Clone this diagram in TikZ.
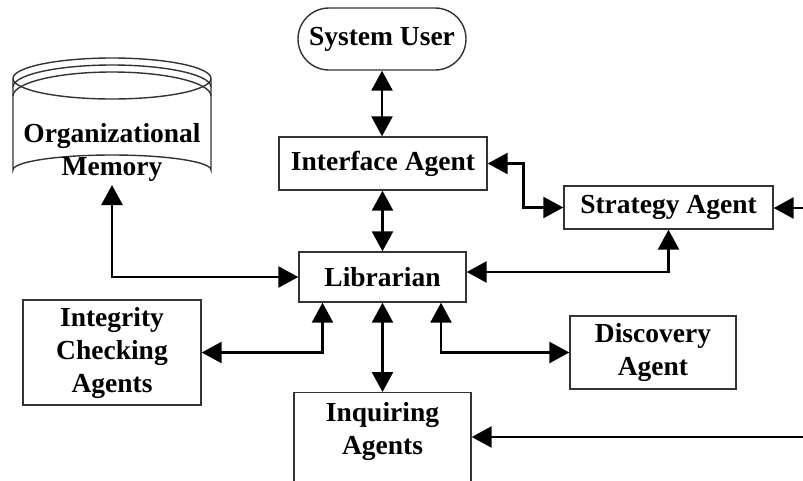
\documentclass[tikz,border=0pt]{standalone}
\usepackage{fontspec}
\setmainfont{Liberation Serif}
\usetikzlibrary{arrows.meta,calc}
\begin{document}
\begin{tikzpicture}[x=1pt,y=-1pt,
  box/.style={draw=black!80, line width=1.4pt, fill=white, inner sep=0pt, align=center,
    font=\bfseries\fontsize{27.5}{33}\selectfont},
  txt/.style={inner sep=0pt, align=center, font=\bfseries\fontsize{27.5}{33}\selectfont},
  tip/.style={Triangle[length=20pt,width=21pt]},
  link/.style={line width=2.6pt, {Triangle[length=20pt,width=21pt]}-{Triangle[length=20pt,width=21pt]}},
  onearr/.style={line width=2.6pt, -{Triangle[length=20pt,width=21pt]}}]
\useasboundingbox (0,0) rectangle (803,480);
\fill[white] (0,0) rectangle (803,480);

% nodes
\node[box, minimum width=168pt, minimum height=62pt, rounded corners=31pt] (su) at (382,39) {System User};
\node[box, minimum width=208pt, minimum height=53pt] (ia) at (383,163.5) {Interface Agent};
\node[box, minimum width=209pt, minimum height=43pt] (sa) at (668.5,207.5) {Strategy Agent};
\node[box, minimum width=167pt, minimum height=50pt] (lib) at (382.5,277) {Librarian};
\node[box, minimum width=178pt, minimum height=105pt] (ica) at (112,352.5) {Integrity\\Checking\\Agents};
\node[box, minimum width=166pt, minimum height=73pt] (da) at (653,352.5) {Discovery\\Agent};
\node[box, minimum width=177pt, minimum height=140pt, anchor=north] (inq) at (382.5,392) {};
\node[txt] (inqt) at (382.5,431) {Inquiring\\Agents};

% organizational memory cylinder
\begin{scope}[draw=black!80, line width=1.4pt]
  \draw[fill=white] (13,78.5) -- (13,170) arc[start angle=180, end angle=360, x radius=99, y radius=15] -- (211,78.5);
  \draw (112,78.5) ellipse [x radius=99, y radius=20.5];
  \draw (13,87) arc[start angle=180, end angle=360, x radius=99, y radius=22];
  \draw (13,96) arc[start angle=180, end angle=360, x radius=99, y radius=24];
\end{scope}
\node[txt] (om) at (112,152) {Organizational\\Memory};
\coordinate (omB) at (112,185);

% free ends
\coordinate (saR) at (803,208);
\coordinate (inR) at (803,437);

% connectors
\draw[link] (su.south) -- (su.south |- ia.north);
\draw[link] (ia.east) -- ++(36,0) |- (sa.west);
\draw[link] (ia.south -| lib.north) -- (lib.north);
\draw[link] (omB) |- (lib.west);
\draw[link] ([yshift=5pt]lib.east) -| (sa.south);
\draw[link] (ica.east) -| ([xshift=-60pt]lib.south);
\draw[link] (lib.south) -- (inq.north);
\draw[link] ([xshift=58.5pt]lib.south) |- (da.west);
\draw[onearr] (saR) -- (saR -| sa.east);
\draw[onearr] (inR) -- (inR -| inq.east);
\end{tikzpicture}
\end{document}
